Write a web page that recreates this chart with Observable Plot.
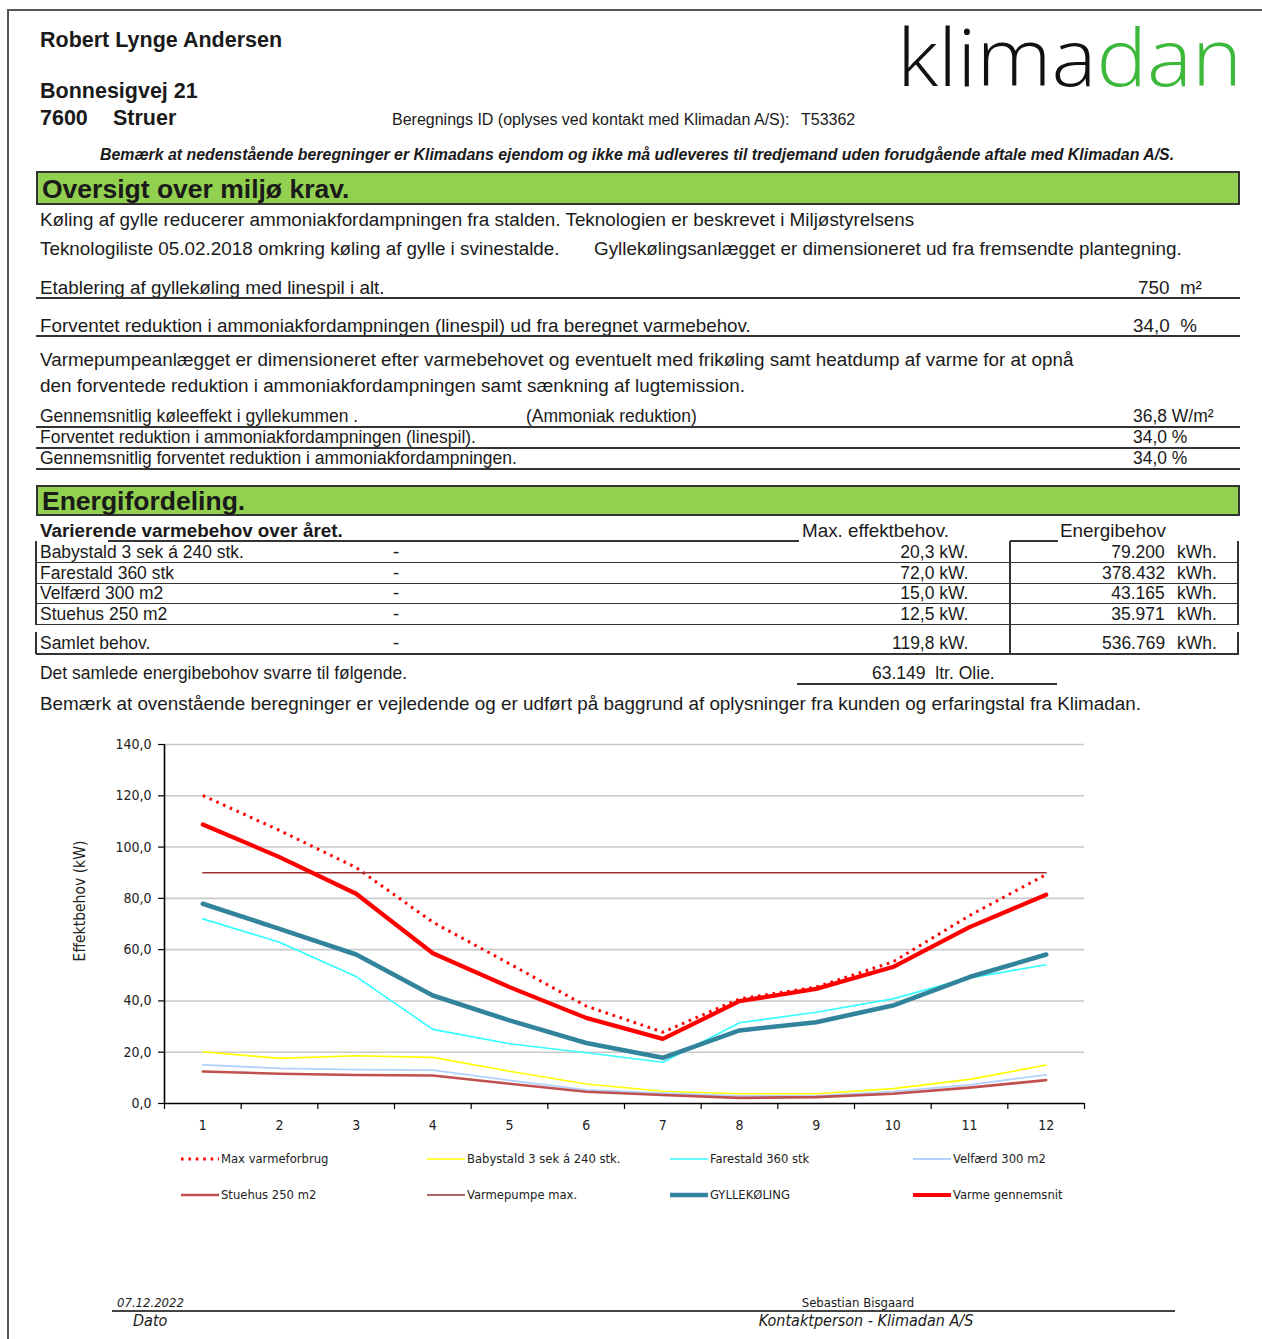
<!DOCTYPE html>
<html><head><meta charset="utf-8">
<script src="https://cdn.jsdelivr.net/npm/d3@7"></script>
<script src="https://cdn.jsdelivr.net/npm/@observablehq/plot@0.6"></script>
<style>
html,body{margin:0;padding:0;background:#fff}
body{width:1262px;height:1339px;overflow:hidden;position:relative;font-family:"Liberation Sans",Arial,sans-serif;color:#1a1a1a}
.t{position:absolute;white-space:pre;line-height:1}
.ln{position:absolute;background:#333}
.bar{position:absolute;background:#92D050;border:2px solid #333;box-sizing:border-box}
#chart{position:absolute;left:0;top:730px}
.narrow{font-family:"Liberation Sans Narrow","DejaVu Sans Condensed","Liberation Sans",sans-serif}
</style></head>
<body>
<script>
// ---------- chart data ----------
const months = [1,2,3,4,5,6,7,8,9,10,11,12];
const maxVarmeforbrug = [120.1,106.5,92.0,70.7,54.5,38.0,27.8,40.8,45.4,55.2,73.3,89.3];
const babystald       = [20.2,17.6,18.6,18.0,12.6,7.6,4.8,3.8,3.8,5.8,9.4,15.0];
const farestald       = [72.0,62.9,49.5,28.9,23.3,19.8,16.1,31.5,35.6,40.8,49.0,54.1];
const velfaerd        = [15.1,13.7,13.2,13.0,9.0,5.3,4.0,3.0,3.0,4.6,7.3,11.2];
const stuehus         = [12.5,11.6,11.1,10.9,7.7,4.6,3.3,2.2,2.5,3.8,6.2,9.1];
const varmepumpeMax   = [90,90,90,90,90,90,90,90,90,90,90,90];
const gyllekoeling    = [77.9,68.1,58.1,42.1,32.4,23.6,17.8,28.5,31.7,38.2,49.3,58.1];
const varmeGennemsnit = [108.8,96.1,81.8,58.6,45.4,33.4,25.2,39.9,44.7,53.2,68.8,81.4];
const seriesNames = ["Max varmeforbrug","Babystald 3 sek á 240 stk.","Farestald 360 stk","Velfærd 300 m2","Stuehus 250 m2","Varmepumpe max.","GYLLEKØLING","Varme gennemsnit"];
const seriesValues = [maxVarmeforbrug,babystald,farestald,velfaerd,stuehus,varmepumpeMax,gyllekoeling,varmeGennemsnit];
const yTicks = [0,20,40,60,80,100,120,140];
const yLabel = "Effektbehov (kW)";

// ---------- table data ----------
const tableCategories = ["Babystald 3 sek á 240 stk.","Farestald 360 stk","Velfærd 300 m2","Stuehus 250 m2"];
const maxEffekt = ["20,3","72,0","15,0","12,5"];
const energibehov = ["79.200","378.432","43.165","35.971"];
const totalEffekt = "119,8";
const totalEnergi = "536.769";
const olie = "63.149";

// ---------- styles (kept apart from data) ----------
const seriesStyle = {
  "Max varmeforbrug": {stroke:"#ff0000", width:3, dash:"2.6 4.8"},
  "Babystald 3 sek á 240 stk.": {stroke:"#ffff00", width:1.6},
  "Farestald 360 stk": {stroke:"#33ffff", width:1.6},
  "Velfærd 300 m2": {stroke:"#b3d1ff", width:1.8},
  "Stuehus 250 m2": {stroke:"#c0504d", width:2.6},
  "Varmepumpe max.": {stroke:"#993333", width:1.5},
  "GYLLEKØLING": {stroke:"#31849b", width:4.6},
  "Varme gennemsnit": {stroke:"#ff0000", width:4.2}
};

// ---------- helpers ----------
function txt(s, x, y, o = {}) {
  const d = document.createElement("div");
  d.className = "t" + (o.narrow ? " narrow" : "");
  d.textContent = s;
  const size = o.size || 18.85;
  d.style.fontSize = size + "px";
  d.style.top = (y - 0.47 * size) + "px";
  if (o.align === "right") d.style.right = (1262 - x) + "px";
  else d.style.left = x + "px";
  if (o.align === "center") d.style.transform = "translateX(-50%)";
  if (o.bold) d.style.fontWeight = "bold";
  if (o.italic) d.style.fontStyle = "italic";
  if (o.color) d.style.color = o.color;
  if (o.sx) { d.style.transformOrigin = o.align === "right" ? "right center" : "left center"; d.style.transform = `scaleX(${o.sx})`; }
  document.body.appendChild(d);
  return d;
}
function hl(x1, x2, y, w = 1.5, c = "#333") {
  const d = document.createElement("div"); d.className = "ln";
  Object.assign(d.style, {left:x1+"px", top:(y - w/2)+"px", width:(x2-x1)+"px", height:w+"px", background:c});
  document.body.appendChild(d);
}
function vl(x, y1, y2, w = 1.5, c = "#333") {
  const d = document.createElement("div"); d.className = "ln";
  Object.assign(d.style, {left:(x - w/2)+"px", top:y1+"px", width:w+"px", height:(y2-y1)+"px", background:c});
  document.body.appendChild(d);
}
function bar(x, y, w, h) {
  const d = document.createElement("div"); d.className = "bar";
  Object.assign(d.style, {left:x+"px", top:y+"px", width:w+"px", height:h+"px"});
  document.body.appendChild(d);
}

// page frame
hl(7, 1262, 10, 2, "#555");
vl(8, 9, 1339, 2, "#555");

// header
txt("Robert Lynge Andersen", 40, 40, {size:21.5, bold:true});
txt("Bonnesigvej 21", 40, 91, {size:21.5, bold:true});
txt("7600", 40, 118, {size:21.5, bold:true});
txt("Struer", 113, 118, {size:21.5, bold:true});
txt("Beregnings ID (oplyses ved kontakt med Klimadan A/S):", 392, 120, {size:16});
txt("T53362", 801, 120, {size:16});

// logo
const logo = document.createElementNS("http://www.w3.org/2000/svg","svg");
logo.setAttribute("width","372"); logo.setAttribute("height","120");
Object.assign(logo.style,{position:"absolute",left:"890px",top:"0px"});
logo.innerHTML = `<text x="7" y="86" font-family="Open Sans, DejaVu Sans, sans-serif" font-weight="360" font-size="79" textLength="345" lengthAdjust="spacingAndGlyphs"><tspan fill="#111">klima</tspan><tspan fill="#3cb83a">dan</tspan></text>`;
document.body.appendChild(logo);

txt("Bemærk at nedenstående beregninger er Klimadans ejendom og ikke må udleveres til tredjemand uden forudgående aftale med Klimadan A/S.", 100, 154, {size:15.9, bold:true, italic:true});

// section 1
bar(36, 171, 1204, 34);
txt("Oversigt over miljø krav.", 42, 188, {size:26.5, bold:true});
txt("Køling af gylle reducerer ammoniakfordampningen fra stalden. Teknologien er beskrevet i Miljøstyrelsens", 40, 220);
txt("Teknologiliste 05.02.2018 omkring køling af gylle i svinestalde.", 40, 249);
txt("Gyllekølingsanlægget er dimensioneret ud fra fremsendte plantegning.", 594, 249);
txt("Etablering af gyllekøling med linespil i alt.", 40, 288);
txt("750  m²", 1138, 288);
hl(36, 1240, 298, 2);
txt("Forventet reduktion i ammoniakfordampningen (linespil) ud fra beregnet varmebehov.", 40, 326);
txt("34,0  %", 1133, 326);
hl(36, 1240, 336, 2);
txt("Varmepumpeanlægget er dimensioneret efter varmebehovet og eventuelt med frikøling samt heatdump af varme for at opnå", 40, 360);
txt("den forventede reduktion i ammoniakfordampningen samt sænkning af lugtemission.", 40, 386);
txt("Gennemsnitlig køleeffekt i gyllekummen .", 40, 416, {sx:0.927});
txt("(Ammoniak reduktion)", 526, 416, {sx:0.927});
txt("36,8 W/m²", 1133, 416, {sx:0.927});
hl(36, 1240, 427, 2);
txt("Forventet reduktion i ammoniakfordampningen (linespil).", 40, 437, {sx:0.927});
txt("34,0 %", 1133, 437, {sx:0.927});
hl(36, 1240, 448, 2);
txt("Gennemsnitlig forventet reduktion i ammoniakfordampningen.", 40, 458, {sx:0.927});
txt("34,0 %", 1133, 458, {sx:0.927});
hl(36, 1240, 469, 2);

// section 2
bar(36, 485, 1204, 31);
txt("Energifordeling.", 42, 500, {size:26.5, bold:true});
txt("Varierende varmebehov over året.", 40, 531, {bold:true});
txt("Max. effektbehov.", 802, 531);
txt("Energibehov", 1060, 531);
hl(108, 799, 541, 1.5);
hl(1010, 1058, 541, 1.5);
const rowY = [552, 573, 593, 614];
tableCategories.forEach((c, i) => {
  txt(c, 40, rowY[i], {sx:0.927});
  txt("-", 393, rowY[i]);
  txt(maxEffekt[i] + " kW.", 968, rowY[i], {align:"right", sx:0.927});
  txt(energibehov[i], 1165, rowY[i], {align:"right", sx:0.927});
  txt("kWh.", 1177, rowY[i], {sx:0.927});
  hl(36, 1239, rowY[i] + 10.5, 1.5);
});
vl(36, 541, 625, 1.5);
vl(1238, 541, 625, 1.5);
vl(1010, 541, 654, 1.5);
txt("Samlet behov.", 40, 643, {sx:0.927});
txt("-", 393, 643);
txt(totalEffekt + " kW.", 968, 643, {align:"right", sx:0.927});
txt(totalEnergi, 1165, 643, {align:"right", sx:0.927});
txt("kWh.", 1177, 643, {sx:0.927});
vl(36, 632, 654, 1.5);
vl(1238, 632, 654, 1.5);
hl(36, 1239, 654, 1.5);
txt("Det samlede energibebohov svarre til følgende.", 40, 673, {sx:0.927});
txt(olie + "  ltr. Olie.", 872, 673, {sx:0.93});
hl(797, 1057, 684, 1.5);
txt("Bemærk at ovenstående beregninger er vejledende og er udført på baggrund af oplysninger fra kunden og erfaringstal fra Klimadan.", 40, 704);

// ---------- chart ----------
const rows = seriesNames.flatMap((name, s) => months.map((m, i) => ({series:name, month:m, value:seriesValues[s][i]})));
const boundaries = d3.range(months[0] - 0.5, months[months.length - 1] + 1, 1);
const fmt = d => d.toFixed(1).replace(".", ",");
const lineMarks = seriesNames.map(name => {
  const st = seriesStyle[name];
  return Plot.line(rows.filter(r => r.series === name), {
    x:"month", y:"value", stroke:st.stroke, strokeWidth:st.width,
    strokeDasharray:st.dash, strokeLinejoin:"round", strokeLinecap:st.dash ? "butt" : "round"
  });
});
const chart = Plot.plot({
  width:1100, height:410,
  marginLeft:164, marginRight:16, marginTop:14, marginBottom:37,
  style:{fontFamily:'"Liberation Sans Narrow","DejaVu Sans Condensed",sans-serif', fontSize:"14px", color:"#222", background:"transparent", overflow:"visible"},
  x:{type:"linear", domain:[boundaries[0], boundaries[boundaries.length-1]], axis:null},
  y:{domain:[0,140], axis:null},
  marks:[
    Plot.gridY(yTicks.slice(1), {stroke:"#c9c9c9", strokeOpacity:1, strokeWidth:1.6}),
    Plot.axisY(yTicks, {tickFormat:fmt, tickSize:6, tickPadding:7, stroke:"#000", strokeWidth:1.2, fill:"#222", label:null}),
    Plot.axisX(months, {tickSize:0, tickPadding:17, fill:"#222", label:null}),
    Plot.axisX(boundaries, {tickSize:6, tickFormat:() => "", stroke:"#000", strokeWidth:1.2, label:null}),
    Plot.ruleX([boundaries[0]], {stroke:"#000", strokeWidth:1.6}),
    Plot.ruleY([0], {stroke:"#000", strokeWidth:1.6}),
    Plot.text([yLabel], {frameAnchor:"left", textAnchor:"middle", rotate:-90, dx:-84, dy:-23, fontSize:15.5, fill:"#222"}),
    ...lineMarks
  ]
});
chart.id = "chart";
document.body.appendChild(chart);

// ---------- legend ----------
const legCols = [181, 427, 670, 913];
const legRows = [1159, 1195];
seriesNames.forEach((name, i) => {
  const st = seriesStyle[name];
  const x = legCols[i % 4], y = legRows[Math.floor(i / 4)];
  const sw = document.createElementNS("http://www.w3.org/2000/svg","svg");
  sw.setAttribute("width","38"); sw.setAttribute("height","10");
  Object.assign(sw.style,{position:"absolute",left:x+"px",top:(y-5)+"px"});
  sw.innerHTML = `<line x1="0" x2="38" y1="5" y2="5" stroke="${st.stroke}" stroke-width="${st.width}" ${st.dash ? `stroke-dasharray="${st.dash}"` : ""}/>`;
  document.body.appendChild(sw);
  txt(name, x + 40, y, {size:12.9, narrow:true, color:"#222"});
});

// ---------- footer ----------
txt("07.12.2022", 117, 1302, {size:13, narrow:true, italic:true});
txt("Sebastian Bisgaard", 858, 1302, {size:13, narrow:true, align:"center"});
hl(112, 1175, 1311, 2, "#444");
txt("Dato", 133, 1321, {size:16, narrow:true, italic:true});
txt("Kontaktperson - Klimadan A/S", 866, 1321, {size:16, narrow:true, italic:true, align:"center"});
</script>
</body></html>
